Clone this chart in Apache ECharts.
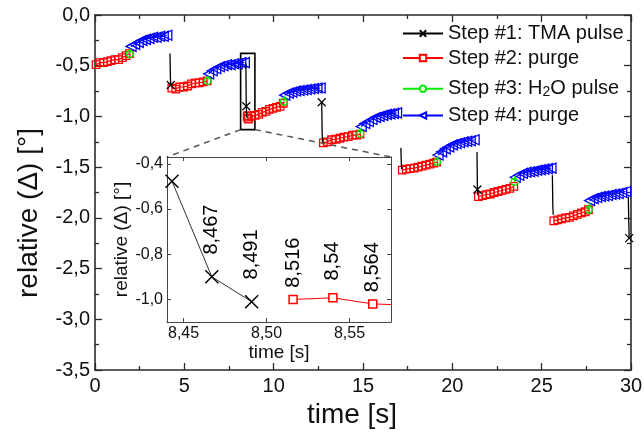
<!DOCTYPE html>
<html><head><meta charset="utf-8">
<script src="https://cdn.jsdelivr.net/npm/echarts@6/dist/echarts.min.js"></script>
<style>html,body{margin:0;padding:0;background:#fff}#c{width:644px;height:445px}</style>
</head><body><div id="c"></div>
<script>
// ---------------- DATA ----------------
const seriesNames = ['Step #1: TMA pulse', 'Step #2: purge', 'Step #3: H2O pulse', 'Step #4: purge'];

// Step #1: TMA pulse (one short segment per cycle)
const tmaTime = [
  [4.196, 4.220, 4.244], [8.443, 8.467, 8.491], [12.690, 12.714, 12.738],
  [17.120, 17.144, 17.168], [21.380, 21.404, 21.428], [25.600, 25.624, 25.648],
  [29.850, 29.874, 29.898]
];
const tmaValue = [
  [-0.38, -0.62, -0.69], [-0.477, -0.90, -1.01], [-0.86, -1.16, -1.26],
  [-1.31, -1.46, -1.52], [-1.35, -1.72, -1.78], [-1.58, -1.88, -1.97],
  [-1.79, -2.02, -2.20]
];

// Step #2: purge (red)
const purgeTime = [
  [0.06, 0.27, 0.48, 0.69, 0.90, 1.11, 1.32, 1.53, 1.74, 1.93],
  [4.30, 4.52, 4.74, 4.96, 5.18, 5.40, 5.62, 5.84, 6.06, 6.28],
  [8.516, 8.540, 8.564, 8.588, 8.76, 8.96, 9.16, 9.36, 9.56, 9.76, 9.96, 10.16, 10.36, 10.54],
  [12.78, 13.00, 13.24, 13.48, 13.71, 13.93, 14.17, 14.42, 14.64, 14.83],
  [17.20, 17.42, 17.64, 17.86, 18.08, 18.30, 18.52, 18.74, 18.96, 19.12],
  [21.46, 21.68, 21.90, 22.12, 22.34, 22.56, 22.78, 23.00, 23.22, 23.44],
  [25.68, 25.90, 26.12, 26.34, 26.56, 26.78, 27.00, 27.22, 27.44, 27.62]
];
const purgeValue = [
  [-0.49, -0.47, -0.47, -0.46, -0.45, -0.44, -0.44, -0.42, -0.40, -0.38],
  [-0.72, -0.73, -0.71, -0.71, -0.70, -0.68, -0.67, -0.67, -0.66, -0.65],
  [-1.00, -0.993, -1.02, -1.026, -1.00, -0.99, -0.98, -0.96, -0.95, -0.93, -0.92, -0.91, -0.90, -0.87],
  [-1.26, -1.25, -1.23, -1.225, -1.215, -1.205, -1.20, -1.185, -1.185, -1.175],
  [-1.53, -1.52, -1.515, -1.51, -1.50, -1.49, -1.48, -1.47, -1.46, -1.45],
  [-1.79, -1.78, -1.77, -1.765, -1.75, -1.74, -1.73, -1.72, -1.71, -1.69],
  [-2.03, -2.02, -2.01, -2.00, -1.995, -1.98, -1.965, -1.95, -1.94, -1.92]
];

// Step #3: H2O pulse (green)
const waterTime = [[1.95, 1.99], [6.30, 6.33], [10.57, 10.60], [14.85, 14.88], [19.15, 19.18], [23.48, 23.51], [27.64, 27.67]];
const waterValue = [[-0.385, -0.33], [-0.65, -0.60], [-0.855, -0.80], [-1.17, -1.11], [-1.45, -1.39], [-1.645, -1.59], [-1.92, -1.85]];

// Step #4: purge (blue)
const purge2Time = [
  [2.02, 2.22, 2.42, 2.62, 2.82, 3.02, 3.22, 3.42, 3.62, 3.82, 4.02],
  [6.36, 6.56, 6.76, 6.96, 7.16, 7.36, 7.56, 7.76, 7.96, 8.16, 8.36],
  [10.62, 10.82, 11.02, 11.22, 11.42, 11.62, 11.82, 12.02, 12.22, 12.42, 12.60],
  [14.90, 15.10, 15.30, 15.50, 15.70, 15.90, 16.10, 16.30, 16.50, 16.70, 16.88],
  [19.20, 19.40, 19.60, 19.80, 20.00, 20.20, 20.40, 20.60, 20.80, 21.00, 21.22],
  [23.52, 23.72, 23.92, 24.12, 24.32, 24.52, 24.72, 24.92, 25.12, 25.32, 25.52],
  [27.68, 27.88, 28.08, 28.28, 28.48, 28.68, 28.88, 29.08, 29.28, 29.48, 29.70]
];
const purge2Value = [
  [-0.31, -0.29, -0.27, -0.25, -0.24, -0.23, -0.22, -0.22, -0.21, -0.21, -0.20],
  [-0.58, -0.55, -0.53, -0.51, -0.50, -0.49, -0.49, -0.48, -0.48, -0.47, -0.47],
  [-0.79, -0.77, -0.76, -0.75, -0.745, -0.74, -0.735, -0.73, -0.725, -0.72, -0.72],
  [-1.10, -1.07, -1.05, -1.03, -1.01, -1.00, -0.99, -0.98, -0.975, -0.97, -0.965],
  [-1.38, -1.35, -1.32, -1.30, -1.28, -1.27, -1.26, -1.25, -1.245, -1.24, -1.23],
  [-1.60, -1.58, -1.56, -1.55, -1.545, -1.54, -1.53, -1.525, -1.52, -1.515, -1.51],
  [-1.83, -1.81, -1.80, -1.79, -1.785, -1.78, -1.77, -1.765, -1.76, -1.75, -1.74]
];

// tick labels
const mainTimeTicks = [0, 5, 10, 15, 20, 25, 30];
const mainValueTicks = [0, -0.5, -1.0, -1.5, -2.0, -2.5, -3.0, -3.5];
const insetTimeTicks = [8.45, 8.50, 8.55];
const insetValueTicks = [-1.0, -0.8, -0.6, -0.4];

// zoomed region (data units)
const zoomBoxTime = [8.15, 8.95];
const zoomBoxValue = [-1.13, -0.378];
const insetCycle = 1;          // which TMA segment is magnified
const insetPurgeCount = 4;     // purge points shown in the inset

// ---------------- BUILD ----------------
const FONT = 'Liberation Sans, Arial, sans-serif';
const XPATH = 'path://M0,0L10,10M10,0L0,10';
const tmaMarkIndex = [2, 1, 0, -1, 1, -1, 2]; // which point in each TMA segment shows its marker

function joinSegments(ts, vs) {
  const d = [], starts = [];
  ts.forEach((seg, i) => {
    if (i) d.push([seg[0], '-']);
    starts.push(d.length);
    seg.forEach((t, j) => d.push([t, vs[i][j]]));
  });
  return {data: d, starts: starts};
}
const tma = joinSegments(tmaTime, tmaValue);
const red = joinSegments(purgeTime, purgeValue);
const green = joinSegments(waterTime, waterValue);
const blue = joinSegments(purge2Time, purge2Value);
const tmaMarks = new Set();
tmaMarkIndex.forEach((k, i) => { if (k >= 0) tmaMarks.add(tma.starts[i] + k); });
const greenMarks = new Set(green.starts);

const insetTma = tmaTime[insetCycle].map((t, j) => [t, tmaValue[insetCycle][j]]);
const insetPurge = purgeTime[insetCycle + 1].slice(0, insetPurgeCount).map((t, j) => [t, purgeValue[insetCycle + 1][j]]);
const insetXMin = 8.44, insetXMax = 8.575;

const fmt1 = v => v.toFixed(1).replace('.', ',');
const fmtT = v => String(v).replace('.', ',');

const axisCol = '#2a2a2a';
function mainAxis(extra) {
  return Object.assign({
    type: 'value', gridIndex: 0,
    axisLine: {show: true, onZero: false, lineStyle: {color: axisCol, width: 1.6}},
    axisTick: {show: true, inside: true, length: 7, lineStyle: {color: axisCol, width: 1.3}},
    minorTick: {show: true, splitNumber: 2, length: 4, lineStyle: {color: axisCol, width: 1.3}},
    splitLine: {show: false}, minorSplitLine: {show: false}
  }, extra);
}
function insetAxis(extra) {
  return Object.assign({
    type: 'value', gridIndex: 1,
    axisLine: {show: true, onZero: false, lineStyle: {color: '#444', width: 1}},
    axisTick: {show: true, inside: true, length: 4, lineStyle: {color: '#444', width: 1}},
    splitLine: {show: false}
  }, extra);
}

const chart = echarts.init(document.getElementById('c'), null, {renderer: 'canvas'});

const legendTops = [23.5, 48, 66.7, 105.5];
const legends = seriesNames.map((n, i) => ({
  data: [n], left: 402, top: legendTops[i], padding: 0, itemGap: 0,
  itemWidth: 40, itemHeight: 8, selectedMode: false,
  itemStyle: {color: '#fff'},
  formatter: i === 2 ? 'Step #3: H{sub|2}O pulse' : '{name}',
  textStyle: {fontSize: 20, lineHeight: 20, color: '#111', fontFamily: FONT,
    rich: {sub: {fontSize: 14, lineHeight: 14, padding: [18, 0, 0, 0], verticalAlign: 'bottom', color: '#111', fontFamily: FONT}}}
}));

const option = {
  animation: false,
  backgroundColor: '#fff',
  textStyle: {fontFamily: FONT},
  grid: [
    {left: 95, top: 15, right: 13, bottom: 75, outerBoundsMode: 'none', containLabel: false},
    {left: 167, top: 157, width: 224, height: 165, show: true, backgroundColor: '#fff', borderWidth: 0, outerBoundsMode: 'none', containLabel: false, z: 5}
  ],
  legend: legends,
  xAxis: [
    mainAxis({min: 0, max: 30, interval: 5, position: 'bottom',
      axisLabel: {margin: 6, fontSize: 20, color: '#111', fontFamily: FONT, customValues: mainTimeTicks},
      name: 'time [s]', nameLocation: 'middle', nameGap: 27,
      nameTextStyle: {fontSize: 28, color: '#111', fontFamily: FONT, padding: [0, 22, 0, 0]}}),
    mainAxis({min: 0, max: 30, interval: 5, position: 'top', axisLabel: {show: false}}),
    insetAxis({min: insetXMin, max: insetXMax, position: 'bottom', z: 6,
      axisTick: {show: true, inside: true, length: 4, customValues: insetTimeTicks, lineStyle: {color: '#444', width: 1}},
      axisLabel: {customValues: insetTimeTicks, formatter: v => v.toFixed(2).replace('.', ','), fontSize: 16, margin: 4, color: '#111', fontFamily: FONT},
      name: 'time [s]', nameLocation: 'middle', nameGap: 20,
      nameTextStyle: {fontSize: 19, color: '#111', fontFamily: FONT}}),
    insetAxis({min: insetXMin, max: insetXMax, position: 'top', z: 6,
      axisTick: {show: true, inside: true, length: 4, customValues: insetTimeTicks, lineStyle: {color: '#444', width: 1}},
      axisLabel: {show: false}})
  ],
  yAxis: [
    mainAxis({min: -3.5, max: 0, interval: 0.5, position: 'left',
      axisLabel: {margin: 5, fontSize: 20, color: '#111', fontFamily: FONT, formatter: fmt1, customValues: mainValueTicks},
      name: 'relative (\u0394) [\u00b0]', nameLocation: 'middle', nameGap: 52,
      nameTextStyle: {fontSize: 28, color: '#111', fontFamily: FONT, padding: [0, 41, 0, 0]}}),
    mainAxis({min: -3.5, max: 0, interval: 0.5, position: 'right', axisLabel: {show: false}}),
    insetAxis({min: -1.1, max: -0.37, position: 'left', z: 6,
      axisTick: {show: true, inside: true, length: 4, customValues: insetValueTicks, lineStyle: {color: '#444', width: 1}},
      axisLabel: {customValues: insetValueTicks, formatter: fmt1, fontSize: 16, margin: 4, color: '#111', fontFamily: FONT},
      name: 'relative (\u0394) [\u00b0]', nameLocation: 'middle', nameGap: 33,
      nameTextStyle: {fontSize: 19, color: '#111', fontFamily: FONT}}),
    insetAxis({min: -1.1, max: -0.37, position: 'right', z: 6,
      axisTick: {show: true, inside: true, length: 4, customValues: insetValueTicks, lineStyle: {color: '#444', width: 1}},
      axisLabel: {show: false}})
  ],
  series: [
    {name: seriesNames[1], type: 'line', xAxisIndex: 0, yAxisIndex: 0, data: red.data,
      symbol: 'rect', symbolSize: 7.5, showAllSymbol: true, z: 2,
      itemStyle: {color: 'rgba(255,255,255,0)', borderColor: '#ff0000', borderWidth: 1.3},
      lineStyle: {color: '#ff0000', width: 1.2}, emphasis: {disabled: true}},
    {name: seriesNames[3], type: 'line', xAxisIndex: 0, yAxisIndex: 0, data: blue.data,
      symbol: 'triangle', symbolRotate: 90, symbolSize: 10, showAllSymbol: true, z: 2,
      itemStyle: {color: 'rgba(255,255,255,0)', borderColor: '#0000ff', borderWidth: 1.3},
      lineStyle: {color: '#0000ff', width: 1.2}, emphasis: {disabled: true}},
    {name: seriesNames[2], type: 'line', xAxisIndex: 0, yAxisIndex: 0, data: green.data,
      symbol: 'circle', symbolSize: (v, p) => greenMarks.has(p.dataIndex) ? 7 : 0, showAllSymbol: true, z: 3,
      itemStyle: {color: 'rgba(255,255,255,0)', borderColor: '#00ee00', borderWidth: 1.3},
      lineStyle: {color: '#00ee00', width: 1.3}, emphasis: {disabled: true}},
    {name: seriesNames[0], type: 'line', xAxisIndex: 0, yAxisIndex: 0, data: tma.data,
      symbol: XPATH, symbolSize: (v, p) => tmaMarks.has(p.dataIndex) ? 8 : 0, showAllSymbol: true, z: 4,
      itemStyle: {color: '#000', borderColor: '#000', borderWidth: 1.2},
      lineStyle: {color: '#000', width: 1.3}, emphasis: {disabled: true},
      markArea: {silent: true, z: 1,
        itemStyle: {color: 'rgba(0,0,0,0)', borderColor: '#000', borderWidth: 1.6},
        data: [[{coord: [zoomBoxTime[0], zoomBoxValue[1]]}, {coord: [zoomBoxTime[1], zoomBoxValue[0]]}]]}},
    // inset
    {name: 'inset TMA', type: 'line', xAxisIndex: 2, yAxisIndex: 2, data: insetTma, z: 7,
      symbol: XPATH, symbolSize: 13, showAllSymbol: true, clip: true,
      itemStyle: {color: '#000', borderColor: '#000', borderWidth: 1.5},
      lineStyle: {color: '#333', width: 1}, emphasis: {disabled: true},
      label: {show: true, position: 'top', distance: 40, rotate: 90, align: 'center', verticalAlign: 'middle',
        fontSize: 20, color: '#000', fontFamily: FONT,
        formatter: p => p.dataIndex === 0 ? '' : fmtT(p.value[0])}},
    {name: 'inset purge', type: 'line', xAxisIndex: 2, yAxisIndex: 2, data: insetPurge, z: 7,
      symbol: 'rect', symbolSize: 8, showAllSymbol: true, clip: true,
      itemStyle: {color: '#fff', borderColor: '#ff0000', borderWidth: 1.5},
      lineStyle: {color: '#ff0000', width: 1}, emphasis: {disabled: true},
      label: {show: true, position: 'top', distance: 32, rotate: 90, align: 'center', verticalAlign: 'middle',
        fontSize: 20, color: '#000', fontFamily: FONT,
        formatter: p => p.value[0] > insetXMax ? '' : fmtT(p.value[0])}}
  ]
};
chart.setOption(option);

// dashed connector lines from the zoom box to the inset
const bl = chart.convertToPixel({xAxisIndex: 0, yAxisIndex: 0}, [zoomBoxTime[0], zoomBoxValue[0]]);
const br = chart.convertToPixel({xAxisIndex: 0, yAxisIndex: 0}, [zoomBoxTime[1], zoomBoxValue[0]]);
const itl = chart.convertToPixel({xAxisIndex: 2, yAxisIndex: 2}, [insetXMin, -0.37]);
const itr = chart.convertToPixel({xAxisIndex: 2, yAxisIndex: 2}, [insetXMax, -0.37]);
const dash = {stroke: '#555', lineWidth: 1.5, lineDash: [6, 5]};
chart.setOption({graphic: [
  {type: 'line', z: 1, shape: {x1: bl[0], y1: bl[1], x2: itl[0], y2: itl[1]}, style: dash, silent: true},
  {type: 'line', z: 1, shape: {x1: br[0], y1: br[1], x2: itr[0], y2: itr[1]}, style: dash, silent: true}
]});
</script></body></html>
